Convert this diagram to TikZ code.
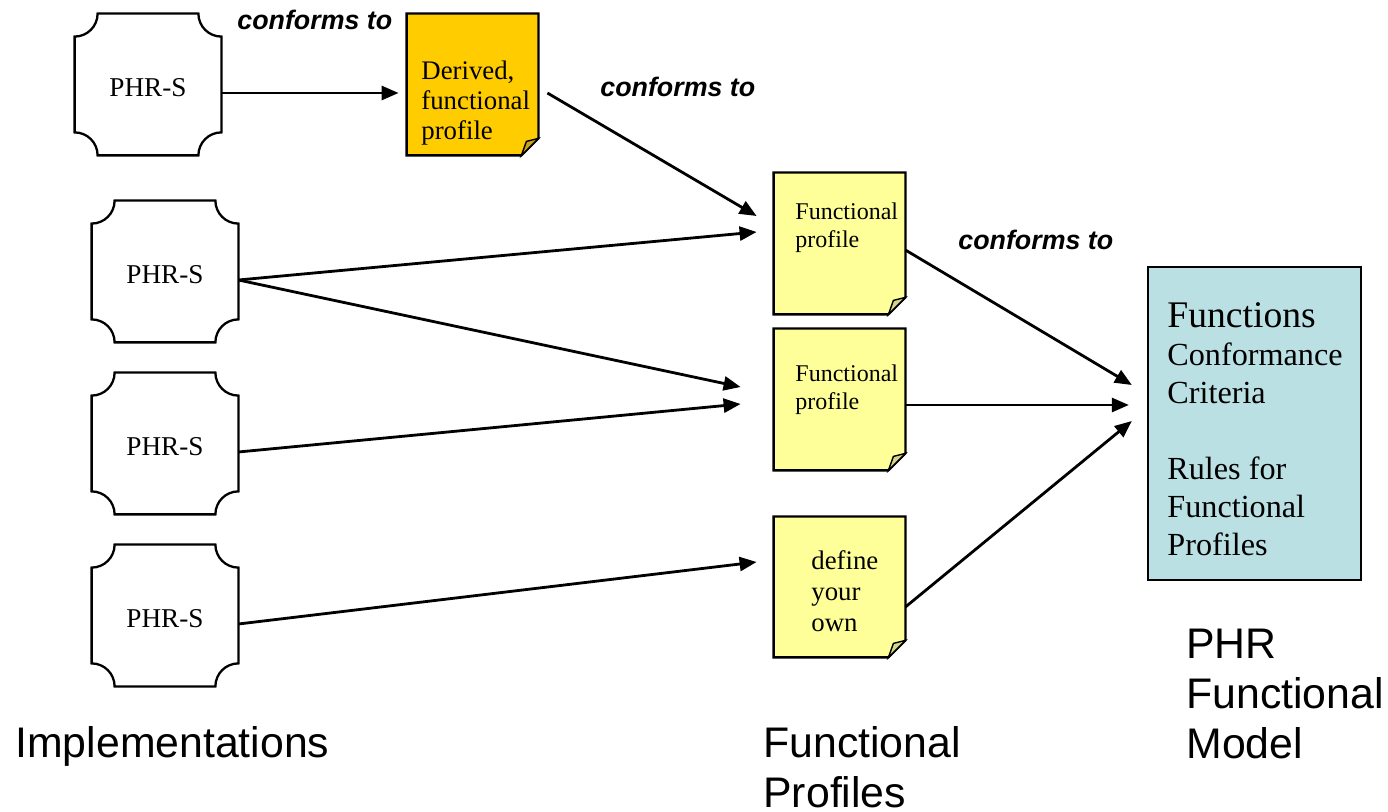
\documentclass[tikz,border=0pt]{standalone}
\usepackage{fontspec}
\setmainfont{Liberation Serif}
\setsansfont{Liberation Sans}
\usetikzlibrary{arrows.meta,calc}
\definecolor{orangenote}{HTML}{FFCC00}
\definecolor{orangeflap}{HTML}{C9A21A}
\definecolor{yellownote}{HTML}{FFFF99}
\definecolor{yellowflap}{HTML}{D4D48A}
\definecolor{fmblue}{HTML}{BBE0E3}
\newcommand\ml[1]{\begin{tabular}[t]{@{}l@{}}#1\end{tabular}}
\newcommand\phrbox[1]{%
  \draw[outl] ([xshift=11.5pt]#1.north west) -- ([xshift=-11.5pt]#1.north east)
    arc[start angle=180,end angle=270,radius=11.5pt] -- ([yshift=11.5pt]#1.south east)
    arc[start angle=90,end angle=180,radius=11.5pt] -- ([xshift=11.5pt]#1.south west)
    arc[start angle=0,end angle=90,radius=11.5pt] -- ([yshift=-11.5pt]#1.north west)
    arc[start angle=270,end angle=360,radius=11.5pt] -- cycle;}
\newcommand\notebox[3]{%
  \filldraw[outl, fill=#2] (#1.north west) -- (#1.north east) -- ([yshift=8.5pt]#1.south east)
    -- ([xshift=-8.5pt]#1.south east) -- (#1.south west) -- cycle;
  \filldraw[flapline, fill=#3] ([yshift=8.5pt]#1.south east) -- ([xshift=-6pt,yshift=7pt]#1.south east)
    -- ([xshift=-8.5pt]#1.south east) -- cycle;}
\tikzset{
  outl/.style={line width=1.15pt, line join=miter},
  flapline/.style={line width=0.7pt},
  phr/.style={minimum width=73pt, minimum height=70.5pt, inner sep=0pt, text height=12.4pt, text depth=0pt, font=\fontsize{13.6}{16}\selectfont},
  notenode/.style={minimum width=65.5pt, minimum height=70.5pt, inner sep=0pt},
  ntext/.style={anchor=base west, inner sep=0pt},
  conf/.style={anchor=base west, inner sep=0pt, font=\sffamily\bfseries\itshape\fontsize{13.4}{16}\selectfont},
  biglabel/.style={anchor=base west, inner sep=0pt, font=\sffamily\fontsize{21.4}{25}\selectfont},
  arr/.style={line width=1.4pt, -{Triangle[length=8.5pt,width=7pt]}}
}
\begin{document}
\begin{tikzpicture}[x=0.5pt,y=-0.5pt]
\useasboundingbox (0,0) rectangle (1388,812);
% implementations
\node[phr] (p1) at (148,84.5) {PHR-S};
\node[phr] (p2) at (165,271.5) {PHR-S};
\node[phr] (p3) at (165,443.5) {PHR-S};
\node[phr] (p4) at (165,615.5) {PHR-S};
\phrbox{p1}\phrbox{p2}\phrbox{p3}\phrbox{p4}
% notes
\node[notenode] (d) at (472.5,84.5) {};
\node[notenode] (f1) at (839.5,243.5) {};
\node[notenode] (f2) at (839.5,399.5) {};
\node[notenode, minimum height=70pt] (f3) at (839.5,587) {};
\notebox{d}{orangenote}{orangeflap}
\notebox{f1}{yellownote}{yellowflap}
\notebox{f2}{yellownote}{yellowflap}
\notebox{f3}{yellownote}{yellowflap}
\node[ntext, font=\fontsize{13.4}{15}\selectfont] (dt) at (421,79.5) {\ml{Derived,\\functional\\profile}};
\node[ntext, font=\fontsize{12}{14}\selectfont] (f1t) at (795,220) {\ml{Functional\\profile}};
\node[ntext, font=\fontsize{12}{14}\selectfont] (f2t) at (795,382) {\ml{Functional\\profile}};
\node[ntext, font=\fontsize{13.4}{15.5}\selectfont] (f3t) at (811,569.5) {\ml{define\\your\\own}};
% functional model
\node[draw, line width=1.15pt, fill=fmblue, minimum width=106.5pt, minimum height=156.5pt, inner sep=0pt] (fm) at (1254.5,423.5) {};
\node[ntext, font=\fontsize{16.1}{19}\selectfont] (fmt) at (1167,328) {\ml{{\fontsize{18.8}{19}\selectfont Functions}\\Conformance\\Criteria\\ \\Rules for\\Functional\\Profiles}};
% labels
\node[conf] (c1) at (237,29.5) {conforms to};
\node[conf] (c2) at (600,96.5) {conforms to};
\node[conf] (c3) at (958,249.5) {conforms to};
\node[biglabel] (l1) at (15,757) {Implementations};
\node[biglabel] (l2) at (763,757) {\ml{Functional\\Profiles}};
\node[biglabel] (l3) at (1186,659) {\ml{PHR\\Functional\\Model}};
% arrows
\draw[arr] ($(p1.east)+(0,8.5)$) -- ($(d.west)+(-8,8.5)$);
\draw[arr] ($(d.east)+(9,8.5)$) -- ($(f1.west)+(-17,-27.5)$);
\draw[arr] ($(p2.east)+(0,8.5)$) -- ($(f1.west)+(-17,-11.5)$);
\draw[arr] ($(p2.east)+(0,8.5)$) -- ($(f2.west)+(-33,-12.5)$);
\draw[arr] ($(p3.east)+(0,8.5)$) -- ($(f2.west)+(-33,4.5)$);
\draw[arr] ($(p4.east)+(0,8.5)$) -- ($(f3.west)+(-17,-25)$);
\draw[arr] ($(f1.east)+(0,6.5)$) -- ($(fm.west)+(-15,-38.5)$);
\draw[arr] ($(f2.east)+(0,5.5)$) -- ($(fm.west)+(-18,-18.5)$);
\draw[arr] ($(f3.east)+(0,20)$) -- ($(fm.west)+(-15,-2.5)$);
\end{tikzpicture}
\end{document}
